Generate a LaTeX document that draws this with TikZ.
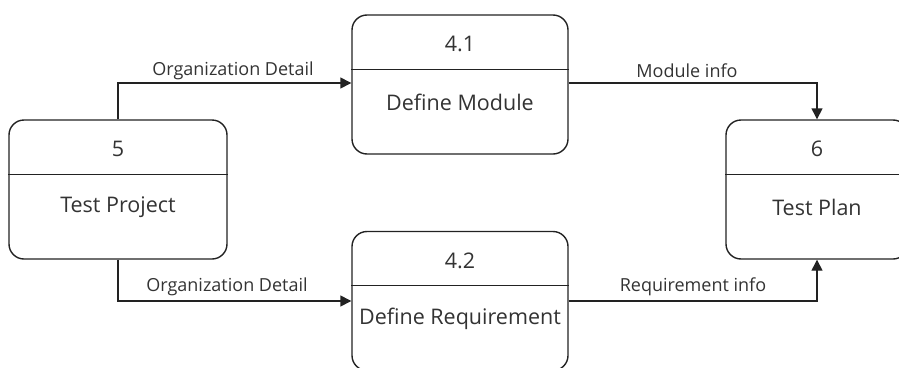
\documentclass[tikz,border=0pt]{standalone}
\usepackage{fontspec}
\setmainfont{Open Sans}
\usetikzlibrary{arrows.meta}
\definecolor{linec}{HTML}{222222}
\definecolor{txtc}{HTML}{333333}
\tikzset{
  procbox/.style={draw=linec, line width=1.4pt, rounded corners=15pt, minimum height=139pt, inner sep=0pt},
  divline/.style={draw=linec, line width=1.2pt},
  boxtxt/.style={text=txtc, font=\fontsize{21.5}{24}\selectfont, inner sep=0pt, anchor=center},
  flowlbl/.style={text=txtc, font=\fontsize{18}{21}\selectfont, inner sep=0pt, anchor=center},
  flow/.style={draw=linec, line width=1.4pt, -{Triangle[length=11pt,width=11pt]}}
}
\begin{document}
\begin{tikzpicture}[x=1pt,y=-1pt]
\useasboundingbox (0,0) rectangle (899,367);
\begin{scope}
\clip (0,0) rectangle (899,367);
% boxes
\node[procbox, minimum width=218pt] (p5) at (118,189.5) {};
\node[procbox, minimum width=216pt] (p41) at (460,84.5) {};
\node[procbox, minimum width=216pt] (p42) at (460,301) {};
\node[procbox, minimum width=182pt] (p6) at (817,189.5) {};
% dividers
\foreach \b in {p5,p41,p42,p6}{
  \draw[divline] ([yshift=-55pt]\b.north west) -- ([yshift=-55pt]\b.north east);
}
% texts
\node[boxtxt] (n5) at ([yshift=-30pt]p5.north) {5};
\node[boxtxt] (t5) at ([yshift=-88pt]p5.north) {Test Project};
\node[boxtxt] (n41) at ([yshift=-30pt]p41.north) {4.1};
\node[boxtxt] (t41) at ([yshift=-88pt]p41.north) {Define Module};
\node[boxtxt] (n42) at ([yshift=-30pt]p42.north) {4.2};
\node[boxtxt] (t42) at ([yshift=-88pt]p42.north) {Define Requirement};
\node[boxtxt] (n6) at ([yshift=-30pt]p6.north) {6};
\node[boxtxt] (t6) at ([yshift=-88pt]p6.north) {Test Plan};
% connectors
\draw[flow] (p5.north) |- ([yshift=1.5pt]p41.west);
\draw[flow] (p5.south) |- (p42.west);
\draw[flow] ([yshift=1.5pt]p41.east) -| (p6.north);
\draw[flow] (p42.east) -| (p6.south);
\end{scope}
% labels
\node[flowlbl] (l1) at (233,71) {Organization Detail};
\node[flowlbl] (l2) at (227,287) {Organization Detail};
\node[flowlbl] (l3) at (687,71) {Module info};
\node[flowlbl] (l4) at (693,287) {Requirement info};
\end{tikzpicture}
\end{document}
